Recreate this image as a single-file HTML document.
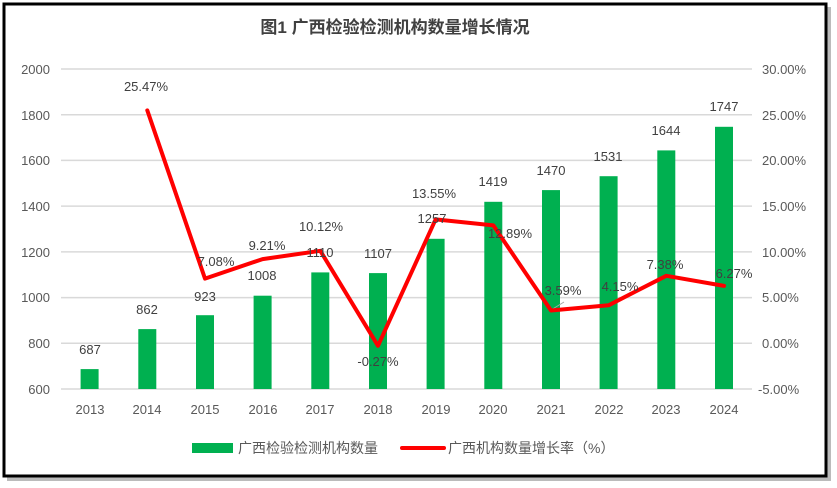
<!DOCTYPE html>
<html><head><meta charset="utf-8"><style>
body{margin:0;background:#fff;}
svg{display:block;font-family:"Liberation Sans","Noto Sans CJK SC",sans-serif;}
</style></head><body>
<svg width="837" height="488" viewBox="0 0 837 488" xmlns="http://www.w3.org/2000/svg">
<rect x="7" y="7" width="824" height="474" fill="#bbb"/>
<rect x="4" y="4" width="822" height="472" fill="#fff" stroke="#000" stroke-width="3"/>
<text x="395" y="33" text-anchor="middle" font-size="17" font-weight="bold" fill="#404040">图1 广西检验检测机构数量增长情况</text>
<g stroke="#d9d9d9" stroke-width="1.5">
<line x1="61" x2="752" y1="69" y2="69"/><line x1="61" x2="752" y1="114.7" y2="114.7"/>
<line x1="61" x2="752" y1="160.4" y2="160.4"/><line x1="61" x2="752" y1="206.1" y2="206.1"/>
<line x1="61" x2="752" y1="251.9" y2="251.9"/><line x1="61" x2="752" y1="297.6" y2="297.6"/>
<line x1="61" x2="752" y1="343.3" y2="343.3"/><line x1="61" x2="752" y1="389" y2="389"/>
</g>
<g font-size="13" fill="#595959" text-anchor="end">
<text x="50" y="74">2000</text><text x="50" y="120">1800</text><text x="50" y="165">1600</text>
<text x="50" y="211">1400</text><text x="50" y="257">1200</text><text x="50" y="302">1000</text>
<text x="50" y="348">800</text><text x="50" y="394">600</text>
</g>
<g font-size="13" fill="#595959" text-anchor="start">
<text x="762" y="74">30.00%</text><text x="762" y="120">25.00%</text><text x="762" y="165">20.00%</text>
<text x="762" y="211">15.00%</text><text x="762" y="257">10.00%</text><text x="762" y="302">5.00%</text>
<text x="762" y="348">0.00%</text><text x="758" y="394">-5.00%</text>
</g>
<g fill="#00b050">
<rect x="80.6" y="369.1" width="18" height="19.9"/><rect x="138.3" y="329.1" width="18" height="59.9"/>
<rect x="196" y="315.2" width="18" height="73.8"/><rect x="253.6" y="295.7" width="18" height="93.3"/>
<rect x="311.3" y="272.4" width="18" height="116.6"/><rect x="369" y="273.1" width="18" height="115.9"/>
<rect x="426.6" y="238.8" width="18" height="150.2"/><rect x="484.3" y="201.8" width="18" height="187.2"/>
<rect x="542" y="190.1" width="18" height="198.9"/><rect x="599.6" y="176.2" width="18" height="212.8"/>
<rect x="657.3" y="150.4" width="18" height="238.6"/><rect x="715" y="126.8" width="18" height="262.2"/>
</g>
<g font-size="13" fill="#595959" text-anchor="middle">
<text x="90" y="414">2013</text><text x="147" y="414">2014</text><text x="205" y="414">2015</text>
<text x="263" y="414">2016</text><text x="320" y="414">2017</text><text x="378" y="414">2018</text>
<text x="436" y="414">2019</text><text x="493" y="414">2020</text><text x="551" y="414">2021</text>
<text x="609" y="414">2022</text><text x="666" y="414">2023</text><text x="724" y="414">2024</text>
</g>
<line x1="551" y1="310" x2="564" y2="302" stroke="#a6a6a6" stroke-width="1"/>
<polyline fill="none" stroke="#ff0000" stroke-width="4" stroke-linejoin="round" stroke-linecap="round"
points="147.3,110.4 205,278.6 262.6,259.1 320.3,250.8 378,345.8 435.6,219.4 493.3,225.4 551,310.5 608.6,305.3 666.3,275.8 724,285.9"/>
<g font-size="13" fill="#404040" text-anchor="middle">
<text x="90" y="354">687</text><text x="147" y="314">862</text><text x="205" y="301">923</text>
<text x="262" y="280">1008</text><text x="320" y="257">1110</text><text x="378" y="258">1107</text>
<text x="432" y="223">1257</text><text x="493" y="186">1419</text><text x="551" y="175">1470</text>
<text x="608" y="161">1531</text><text x="666" y="135">1644</text><text x="724" y="111">1747</text>
<text x="146" y="91">25.47%</text><text x="216" y="266">7.08%</text><text x="267" y="250">9.21%</text>
<text x="321" y="231">10.12%</text><text x="378" y="366">-0.27%</text><text x="434" y="198">13.55%</text>
<text x="510" y="238">12.89%</text><text x="563" y="295">3.59%</text><text x="620" y="291">4.15%</text>
<text x="665" y="269">7.38%</text><text x="734" y="278">6.27%</text>
</g>
<rect x="192" y="443" width="41" height="10" fill="#00b050"/>
<text x="238" y="453" font-size="14" fill="#595959">广西检验检测机构数量</text>
<line x1="402" y1="448" x2="444" y2="448" stroke="#ff0000" stroke-width="4" stroke-linecap="round"/>
<text x="448" y="453" font-size="14" fill="#595959">广西机构数量增长率（%）</text>
</svg>
</body></html>
